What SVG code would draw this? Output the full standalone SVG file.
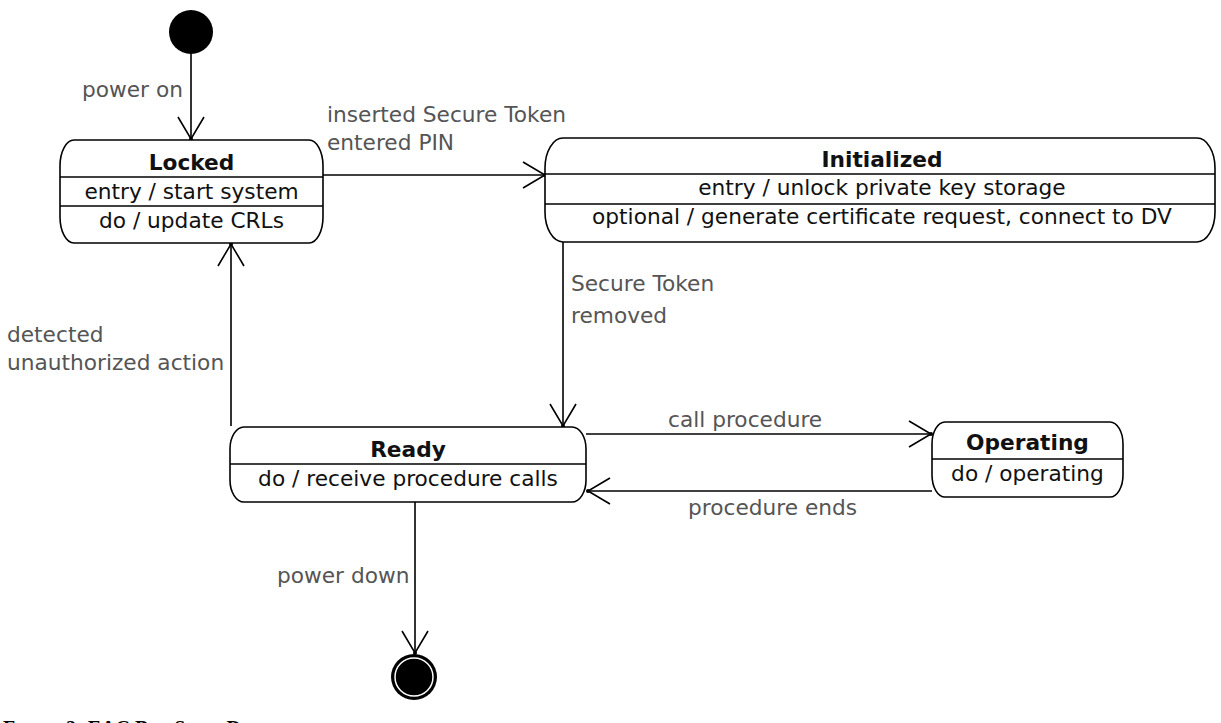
<svg xmlns="http://www.w3.org/2000/svg" width="1221" height="723" viewBox="0 0 1221 723">
<style>
.st{fill:#fff;stroke:#000;stroke-width:1.6}
.dv{stroke:#000;stroke-width:1.6}
.t{font-family:"DejaVu Sans",sans-serif;font-size:21.7px;fill:#111;text-anchor:middle}
.b{font-weight:bold}
.lb{font-family:"DejaVu Sans",sans-serif;font-size:21.7px;fill:#555}
.cn{fill:none;stroke:#000;stroke-width:1.6;marker-end:url(#ar)}
.cap{font-family:"Liberation Serif",serif;font-size:20px;font-weight:bold;font-variant:small-caps;fill:#000}
</style>
<defs>
<marker id="ar" markerUnits="userSpaceOnUse" markerWidth="30" markerHeight="30" viewBox="-25 -15 30 30" refX="0" refY="0" orient="auto">
<path d="M-22,-13 L0,0 L-22,13" fill="none" stroke="#000" stroke-width="1.6"/>
<circle cx="0" cy="0" r="2" fill="#000"/>
</marker>
</defs>
<rect width="1221" height="723" fill="#fff"/>
<g id="connectors">
<path class="cn" d="M191,54 V139"/>
<path class="cn" d="M323,175 H545"/>
<path class="cn" d="M563,242 V426"/>
<path class="cn" d="M231,426 V244"/>
<path class="cn" d="M586,434 H931"/>
<path class="cn" d="M932,491 H588"/>
<path class="cn" d="M415,502 V653"/>
<text class="lb" x="82" y="97">power on</text>
<text class="lb" x="327" y="122">inserted Secure Token</text>
<text class="lb" x="327" y="150">entered PIN</text>
<text class="lb" x="571" y="291">Secure Token</text>
<text class="lb" x="571" y="323">removed</text>
<text class="lb" x="7" y="342">detected</text>
<text class="lb" x="7" y="370">unauthorized action</text>
<text class="lb" x="668" y="427">call procedure</text>
<text class="lb" x="688" y="515">procedure ends</text>
<text class="lb" x="277" y="583">power down</text>
</g>
<g id="initial">
<circle cx="191" cy="32" r="22" fill="#000"/>
</g>
<g id="locked">
<rect class="st" x="60" y="140" width="263" height="103" rx="14" ry="26"/>
<line class="dv" x1="60" y1="177" x2="323" y2="177"/>
<line class="dv" x1="60" y1="206" x2="323" y2="206"/>
<text class="t b" x="191.5" y="170">Locked</text>
<text class="t" x="191.5" y="199">entry / start system</text>
<text class="t" x="191.5" y="228">do / update CRLs</text>
</g>
<g id="initialized">
<rect class="st" x="545" y="138" width="670" height="104" rx="18" ry="30"/>
<line class="dv" x1="545" y1="174" x2="1215" y2="174"/>
<line class="dv" x1="545" y1="204" x2="1215" y2="204"/>
<text class="t b" x="882" y="167">Initialized</text>
<text class="t" x="882" y="195">entry / unlock private key storage</text>
<text class="t" x="882" y="224">optional / generate certificate request, connect to DV</text>
</g>
<g id="ready">
<rect class="st" x="230" y="427" width="356" height="75" rx="14" ry="22"/>
<line class="dv" x1="230" y1="464" x2="586" y2="464"/>
<text class="t b" x="408" y="457">Ready</text>
<text class="t" x="408" y="486">do / receive procedure calls</text>
</g>
<g id="operating">
<rect class="st" x="932" y="422" width="191" height="75" rx="13" ry="22"/>
<line class="dv" x1="932" y1="459" x2="1123" y2="459"/>
<text class="t b" x="1027.5" y="450">Operating</text>
<text class="t" x="1027.5" y="481">do / operating</text>
</g>
<g id="final">
<circle cx="414" cy="677" r="23" fill="#000"/>
<circle cx="414" cy="677" r="19" fill="none" stroke="#fff" stroke-width="1.5"/>
</g>
<text class="cap" x="3" y="735">Figure 2: EAC Box State Diagram</text>
</svg>
